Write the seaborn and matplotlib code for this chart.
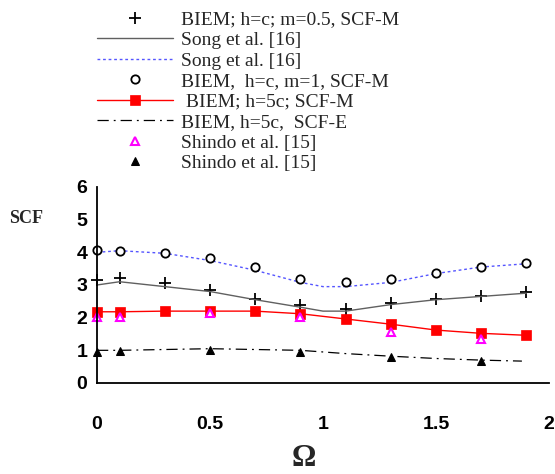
import numpy as np
import pandas as pd
import matplotlib
matplotlib.use("Agg")
import matplotlib.pyplot as plt
import seaborn as sns

sns.set_theme(style="white")
plt.rcParams['font.family'] = ['Liberation Serif', 'DejaVu Serif']

# --- data ---
x_biem = [0, 0.1, 0.3, 0.5, 0.7, 0.9, 1.1, 1.3, 1.5, 1.7, 1.9]
scf_m05 = [3.15, 3.2, 3.07, 2.84, 2.57, 2.39, 2.28, 2.44, 2.56, 2.66, 2.78]
scf_m1 = [4.07, 4.05, 3.97, 3.82, 3.54, 3.17, 3.08, 3.17, 3.36, 3.54, 3.66]
scf_5c_m = [2.18, 2.18, 2.2, 2.2, 2.2, 2.12, 1.96, 1.80, 1.62, 1.52, 1.46]

x_song = [0, 0.1, 0.3, 0.5, 0.7, 0.9, 1.0, 1.1, 1.3, 1.5, 1.7, 1.9]
song_m05 = [3.0, 3.1, 2.95, 2.8, 2.55, 2.32, 2.2, 2.2, 2.4, 2.55, 2.65, 2.75]
song_m1 = [4.0, 4.05, 3.97, 3.75, 3.45, 3.08, 2.95, 2.95, 3.08, 3.35, 3.55, 3.65]

x_scfe = [0, 0.1, 0.5, 0.9, 1.1, 1.3, 1.5, 1.7, 1.88]
scf_5c_e = [1.0, 1.0, 1.05, 1.0, 0.9, 0.82, 0.75, 0.7, 0.67]

x_shindo = [0, 0.1, 0.5, 0.9, 1.3, 1.7]
shindo_m = [2.03, 2.02, 2.15, 2.03, 1.57, 1.34]
shindo_e = [0.96, 0.98, 1.01, 0.96, 0.8, 0.67]

fig = plt.figure(figsize=(5.55, 4.74), dpi=100)
ax = fig.add_axes([0.1748, 0.192, 0.8144, 0.4135])

# seaborn sets white marker edges by default, so give them explicitly
sns.lineplot(x=x_biem, y=scf_m05, ax=ax, color='black', marker='+', markersize=9,
             markeredgecolor='black', markeredgewidth=1.3, linestyle='none',
             label='BIEM; h=c; m=0.5, SCF-M', clip_on=False)
sns.lineplot(x=x_song, y=song_m05, ax=ax, color='#606060', linewidth=1.0,
             label='Song et al. [16]')
sns.lineplot(x=x_song, y=song_m1, ax=ax, color='#5555ff', linewidth=1.0, linestyle=(0, (2, 2)),
             label='Song et al. [16]')
sns.lineplot(x=x_biem, y=scf_m1, ax=ax, color='black', marker='o', markersize=6,
             markerfacecolor='white', markeredgecolor='black', markeredgewidth=1.3,
             linestyle='none', label='BIEM,  h=c, m=1, SCF-M', clip_on=False)
sns.lineplot(x=x_biem, y=scf_5c_m, ax=ax, color='red', linewidth=1.0, marker='s', markersize=7,
             markeredgecolor='red', markeredgewidth=0.5, label=' BIEM; h=5c; SCF-M', clip_on=False)
sns.lineplot(x=x_scfe, y=scf_5c_e, ax=ax, color='black', linewidth=0.9,
             linestyle=(0, (9, 4, 1.5, 4)), label='BIEM, h=5c,  SCF-E')
sns.lineplot(x=x_shindo, y=shindo_m, ax=ax, color='magenta', marker='^', markersize=6,
             markerfacecolor='white', markeredgecolor='magenta', markeredgewidth=1.5,
             linestyle='none', label='Shindo et al. [15]', clip_on=False)
sns.lineplot(x=x_shindo, y=shindo_e, ax=ax, color='black', marker='^', markersize=6,
             markeredgecolor='black', linestyle='none', label='Shindo et al. [15]', clip_on=False)

ax.set_xlim(0, 2)
ax.set_ylim(0, 6)
ax.set_xticks(np.arange(0, 2.01, 0.25))
ax.set_xticklabels(['0', '', '0.5', '', '1', '', '1.5', '', '2'])
ax.set_yticks(range(0, 7))
for side in ['top', 'right']:
    ax.spines[side].set_visible(False)
for side in ['left', 'bottom']:
    ax.spines[side].set_color('black')
    ax.spines[side].set_linewidth(1.3)
ax.tick_params(axis='x', direction='in', length=5, width=1.3, pad=24, colors='black')
ax.tick_params(axis='y', direction='in', length=7, width=1.3, pad=7, colors='black')
for lab in ax.get_xticklabels() + ax.get_yticklabels():
    lab.set_family('Liberation Sans')
    lab.set_fontweight('bold')
    lab.set_fontsize(14)
ax.set_xlabel('')
ax.set_ylabel('')

fig.text(0.016, 0.54, 'SCF', fontsize=13, fontweight='bold', va='center', ha='left')
fig.text(0.548, 0.032, 'Ω', fontsize=22, fontweight='bold', va='center', ha='center')

handles, labels = ax.get_legend_handles_labels()
ax.get_legend().remove()
fig.legend(handles, labels, loc='upper left', bbox_to_anchor=(0.175, 0.977),
           frameon=False, fontsize=14, numpoints=1, handlelength=3.9,
           handletextpad=0.4, labelspacing=0.15, borderpad=0, borderaxespad=0)

fig.savefig('out.png', dpi=100, facecolor='white')
